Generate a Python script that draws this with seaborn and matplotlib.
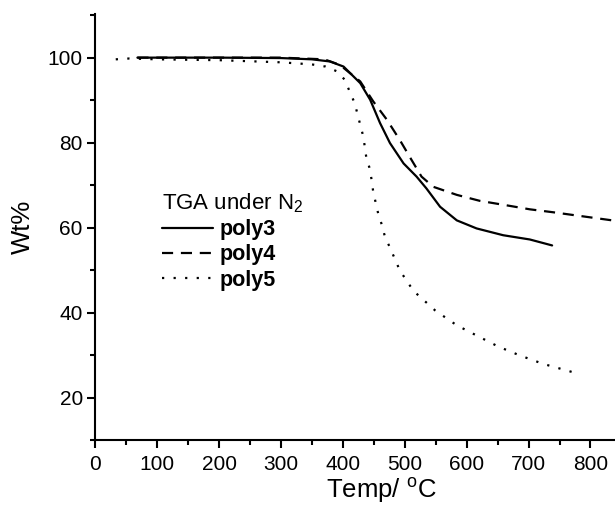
import pandas as pd
import seaborn as sns
import matplotlib.pyplot as plt
import matplotlib.ticker as ticker

sns.set_style("ticks")
plt.rcParams['font.family'] = ['Liberation Sans', 'DejaVu Sans']
plt.rcParams['mathtext.fontset'] = 'custom'
plt.rcParams['mathtext.rm'] = 'Liberation Sans'
plt.rcParams['mathtext.it'] = 'Liberation Sans:italic'
for k in ['text.color', 'axes.labelcolor', 'xtick.color', 'ytick.color', 'axes.edgecolor']:
    plt.rcParams[k] = 'black'

# TGA curves
temp3 = [68, 100, 200, 300, 350, 379, 401, 428, 444, 460, 476, 498, 519, 535, 557, 584, 616, 659, 702, 738]
wt3 = [100.0, 100.0, 100.0, 99.9, 99.6, 99.1, 97.9, 94.0, 90.1, 84.6, 79.9, 75.1, 72.0, 69.2, 64.9, 61.7, 59.8, 58.2, 57.2, 55.8]

temp4 = [68, 100, 200, 300, 370, 395, 428, 449, 471, 492, 511, 527, 546, 584, 621, 670, 702, 740, 840]
wt4 = [100.0, 100.0, 100.0, 100.0, 99.6, 98.3, 94.4, 89.7, 85.4, 80.6, 75.9, 72.0, 69.6, 67.7, 66.3, 65.1, 64.3, 63.6, 61.6]

temp5 = [33, 55, 100, 200, 300, 350, 372, 390, 403, 411, 419, 428, 433, 438, 444, 449, 457, 463, 468,
         476, 492, 514, 549, 584, 616, 651, 686, 724, 778]
wt5 = [99.6, 99.8, 99.6, 99.4, 98.9, 98.4, 97.9, 96.8, 94.8, 92.0, 89.3, 84.2, 81.4, 76.3, 73.6, 68.4, 63.3, 60.6, 57.8,
       55.3, 49.9, 45.1, 40.5, 37.0, 34.6, 32.0, 29.9, 27.9, 25.7]

series = ['poly3', 'poly4', 'poly5']

frames = []
for name, t, w in zip(series, [temp3, temp4, temp5], [wt3, wt4, wt5]):
    frames.append(pd.DataFrame({'Temp': t, 'Wt': w, 'sample': name}))
data = pd.concat(frames, ignore_index=True)

fig = plt.figure(figsize=(6.15, 5.07), dpi=100)
ax = fig.add_axes([0.155, 0.1321, 0.845, 0.8397])

sns.lineplot(data=data, x='Temp', y='Wt', hue='sample', style='sample',
             palette=['black'] * 3,
             dashes={'poly3': '', 'poly4': (5, 3.5), 'poly5': (1, 4.2)},
             estimator=None, sort=False, linewidth=1.6, ax=ax, legend=False)

ax.set_xlim(0, 839.6)
ax.set_ylim(10, 110.2)
ax.xaxis.set_major_locator(ticker.MultipleLocator(100))
ax.xaxis.set_minor_locator(ticker.MultipleLocator(50))
ax.yaxis.set_major_locator(ticker.FixedLocator([20, 40, 60, 80, 100]))
ax.yaxis.set_minor_locator(ticker.FixedLocator([10, 30, 50, 70, 90, 110]))
ax.tick_params(which='major', direction='out', length=6, width=1.5, labelsize=15)
ax.tick_params(axis='x', which='major', pad=4.5)
ax.tick_params(axis='y', which='major', pad=3)
ax.tick_params(which='minor', direction='out', length=3.5, width=1.5)

for s in ['top', 'right']:
    ax.spines[s].set_visible(False)
for s in ['left', 'bottom']:
    ax.spines[s].set_linewidth(1.5)

ax.set_xlabel(r'Temp/ $^{\rm o}$C', fontsize=18.5, labelpad=5)
ax.xaxis.set_label_coords(0.55, -0.085)
ax.set_ylabel('Wt%', fontsize=18.5, labelpad=9)

handles = ax.get_lines()[:3]
leg = ax.legend(handles, series, title=r'TGA under N$_2$', frameon=False,
                loc='upper left', bbox_to_anchor=(0.25, 0.64), bbox_transform=fig.transFigure,
                handlelength=2.37, handletextpad=0.3, labelspacing=0.2, borderaxespad=0,
                prop={'weight': 'bold', 'size': 15.5}, title_fontsize=16)
leg._legend_box.align = 'left'

fig.savefig('out.png', dpi=100)
